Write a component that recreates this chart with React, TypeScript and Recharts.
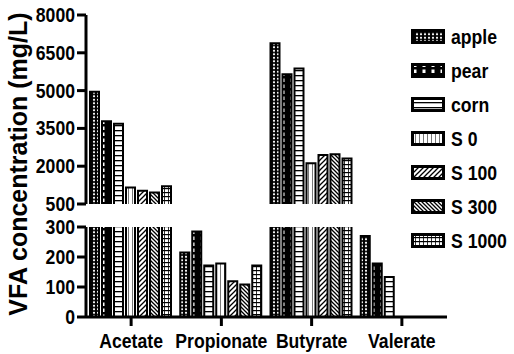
import { BarChart, Bar, XAxis, YAxis, Legend } from 'recharts';

const categories = ['Acetate', 'Propionate', 'Butyrate', 'Valerate'];
const seriesNames = ['apple', 'pear', 'corn', 'S 0', 'S 100', 'S 300', 'S 1000'];
const apple = [4950, 215, 6880, 270];
const pear = [3780, 285, 5650, 178];
const corn = [3680, 172, 5880, 133];
const s0 = [1150, 178, 2120, null];
const s100 = [1030, 119, 2440, null];
const s300 = [960, 108, 2470, null];
const s1000 = [1200, 172, 2310, null];
const topTicks = [500, 2000, 3500, 5000, 6500, 8000];
const bottomTicks = [0, 100, 200, 300];

const series = [apple, pear, corn, s0, s100, s300, s1000];
const patternIds = ['p-apple', 'p-pear', 'p-corn', 'p-s0', 'p-s100', 'p-s300', 'p-s1000'];

const FONT = "'Liberation Sans', Arial, sans-serif";
const SQUEEZE = 0.84; // the source picture is squeezed sideways
const BREAK = 500;

// top segment: bars run from 0 and get clipped at the break
const topData = categories.map((name, i) => {
  const row: Record<string, unknown> = { name };
  series.forEach((s, k) => {
    const v = s[i];
    row['k' + k] = v != null && v >= BREAK ? [0, v] : null;
  });
  return row;
});

const bottomData = categories.map((name, i) => {
  const row: Record<string, unknown> = { name };
  series.forEach((s, k) => {
    row['k' + k] = s[i];
  });
  return row;
});

function Patterns() {
  return (
    <svg width={0} height={0} style={{ position: 'absolute' }}>
      <defs>
        <pattern id="p-apple" width={4} height={3.5} patternUnits="userSpaceOnUse">
          <rect width={4} height={3.5} fill="#000" />
          <circle cx={2} cy={1.75} r={1.1} fill="#fff" />
        </pattern>
        <pattern id="p-pear" width={9} height={6} patternUnits="userSpaceOnUse">
          <rect width={9} height={6} fill="#000" />
          <rect x={2.5} y={0.5} width={3} height={3.5} fill="#fff" />
        </pattern>
        <pattern id="p-corn" width={4} height={5} patternUnits="userSpaceOnUse">
          <rect width={4} height={5} fill="#fff" />
          <rect y={0} width={4} height={1.3} fill="#000" />
        </pattern>
        <pattern id="p-s0" width={4} height={4} patternUnits="userSpaceOnUse">
          <rect width={4} height={4} fill="#fff" />
          <rect x={0} width={0.8} height={4} fill="#555" />
        </pattern>
        <pattern id="p-s100" width={5} height={5} patternUnits="userSpaceOnUse">
          <rect width={5} height={5} fill="#fff" />
          <path d="M-1,6 L6,-1 M-1,1 L1,-1 M4,6 L6,4" stroke="#000" strokeWidth={1.3} />
        </pattern>
        <pattern id="p-s300" width={4} height={4} patternUnits="userSpaceOnUse">
          <rect width={4} height={4} fill="#fff" />
          <path d="M-1,-1 L5,5 M3,-1 L5,1 M-1,3 L1,5" stroke="#000" strokeWidth={1.3} />
        </pattern>
        <pattern id="p-s1000" width={4} height={4} patternUnits="userSpaceOnUse">
          <rect width={4} height={4} fill="#fff" />
          <rect y={0} width={4} height={1.2} fill="#000" />
          <rect x={0} width={0.8} height={4} fill="#000" />
        </pattern>
      </defs>
    </svg>
  );
}

function YTick(props: any) {
  const { x, y, payload } = props;
  return (
    <text
      transform={`translate(${x},${y}) scale(${SQUEEZE},1)`}
      dy={7}
      textAnchor="end"
      fontFamily={FONT}
      fontWeight="bold"
      fontSize={21}
      fill="#000"
    >
      {payload.value}
    </text>
  );
}

function XTick(props: any) {
  const { x, y, payload } = props;
  return (
    <text
      transform={`translate(${x},${y}) scale(${SQUEEZE},1)`}
      dy={20}
      textAnchor="middle"
      fontFamily={FONT}
      fontWeight="bold"
      fontSize={21}
      fill="#000"
    >
      {payload.value}
    </text>
  );
}

function LegendBox() {
  return (
    <div>
      {seriesNames.map((n, k) => (
        <div key={n} style={{ display: 'flex', alignItems: 'center', height: 34, whiteSpace: 'nowrap' }}>
          <svg width={34} height={15} style={{ marginRight: 6, flex: 'none' }}>
            <rect x={1.5} y={1.5} width={31} height={12} fill={`url(#${patternIds[k]})`} stroke="#000" strokeWidth={3} />
          </svg>
          <span
            style={{
              fontFamily: FONT,
              fontWeight: 'bold',
              fontSize: 21,
              lineHeight: '21px',
              display: 'inline-block',
              transform: `scaleX(${SQUEEZE})`,
              transformOrigin: 'left center',
            }}
          >
            {n}
          </span>
        </div>
      ))}
    </div>
  );
}

const margin = { left: 6, right: 67 };

function renderBars() {
  return series.map((_, k) => (
    <Bar
      key={k}
      dataKey={'k' + k}
      name={seriesNames[k]}
      fill={`url(#${patternIds[k]})`}
      stroke="#000"
      strokeWidth={2}
      isAnimationActive={false}
    />
  ));
}

export default function App() {
  return (
    <div style={{ position: 'relative', width: 514, height: 354, background: '#fff', overflow: 'hidden' }}>
      <style>{'body{margin:0}'}</style>
      <Patterns />
      <svg width={40} height={354} style={{ position: 'absolute', left: 0, top: 0 }}>
        <text
          x={0}
          y={0}
          transform="translate(27,164) rotate(-90)"
          textAnchor="middle"
          fontFamily={FONT}
          fontWeight="bold"
          fontSize={25}
          fill="#000"
        >
          VFA concentration (mg/L)
        </text>
      </svg>
      <div style={{ position: 'absolute', left: 0, top: 0 }}>
        <BarChart
          width={514}
          height={216}
          data={topData}
          margin={{ top: 15, bottom: 12, ...margin }}
          barCategoryGap={4}
          barGap={3}
        >
          <XAxis dataKey="name" hide />
          <YAxis
            width={80}
            domain={[BREAK, 8000]}
            ticks={topTicks}
            interval={0}
            allowDataOverflow
            tick={<YTick />}
            tickSize={9}
            axisLine={{ stroke: '#000', strokeWidth: 3 }}
            tickLine={{ stroke: '#000', strokeWidth: 3 }}
          />
          <Legend
            layout="vertical"
            align="center"
            verticalAlign="middle"
            content={<LegendBox />}
            wrapperStyle={{ left: 411, top: 19, width: 103 }}
          />
          {renderBars()}
        </BarChart>
      </div>
      <div style={{ position: 'absolute', left: 0, top: 206 }}>
        <BarChart
          width={514}
          height={148}
          data={bottomData}
          margin={{ top: 21, bottom: 2, ...margin }}
          barCategoryGap={4}
          barGap={3}
        >
          <XAxis
            dataKey="name"
            height={35}
            interval={0}
            tick={<XTick />}
            tickSize={9}
            axisLine={{ stroke: '#000', strokeWidth: 3 }}
            tickLine={{ stroke: '#000', strokeWidth: 3 }}
          />
          <YAxis
            width={80}
            domain={[0, 300]}
            ticks={bottomTicks}
            interval={0}
            allowDataOverflow
            tick={<YTick />}
            tickSize={9}
            axisLine={{ stroke: '#000', strokeWidth: 3 }}
            tickLine={{ stroke: '#000', strokeWidth: 3 }}
          />
          {renderBars()}
        </BarChart>
      </div>
    </div>
  );
}
